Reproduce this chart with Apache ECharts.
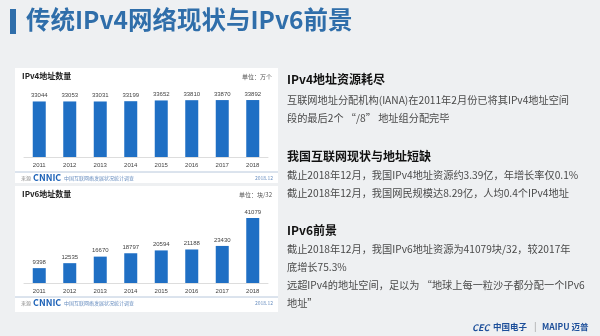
<!DOCTYPE html>
<html>
<head>
<meta charset="utf-8">
<script src="https://cdn.jsdelivr.net/npm/echarts@6/dist/echarts.min.js"></script>
<style>
  html, body { margin: 0; padding: 0; }
  #main { width: 600px; height: 336px; }
</style>
</head>
<body>
<div id="main"></div>
<script>
var years = ['2011', '2012', '2013', '2014', '2015', '2016', '2017', '2018'];
var ipv4Counts = [33044, 33053, 33031, 33199, 33652, 33810, 33870, 33892];
var ipv6Blocks = [9398, 12535, 16670, 18797, 20594, 21188, 23430, 41079];

var cjk = '"Noto Sans CJK SC", "Noto Sans", sans-serif';
var barBlue = '#1f6fc4';
var bodyColor = '#4a4a4a';

function txt(x, y, s, size, color, weight, align) {
    return {
        type: 'text', left: x, top: y,
        style: {
            text: s, fontSize: size, fill: color, fontFamily: cjk,
            fontWeight: weight || 'normal', textAlign: align || 'left'
        }
    };
}

function panel(top, h, title, unit, footY) {
    return [
        { type: 'rect', shape: { x: 15, y: top, width: 263, height: h }, style: { fill: '#fff' } },
        txt(22, top + 4, title, 8, '#222', 'bold'),
        { type: 'text', right: 328, top: top + 6, style: { text: unit, fontSize: 6, fill: '#555', fontFamily: cjk } },
        { type: 'line', shape: { x1: 15, y1: footY, x2: 278, y2: footY }, style: { stroke: '#b8c8dc', lineWidth: 1 } },
        txt(21, footY + 4, '来源', 5, '#888'),
        txt(33, footY + 1.5, 'CNNIC', 9, '#1e63b8', 'bold'),
        txt(64, footY + 4, '中国互联网络发展状况统计调查', 5, '#6a8fc0'),
        { type: 'text', right: 327, top: footY + 4, style: { text: '2018.12', fontSize: 5, fill: '#6a8fc0', fontFamily: cjk } }
    ];
}

var graphics = [
    { type: 'rect', shape: { x: 10, y: 9, width: 6, height: 25 }, style: { fill: '#2f6eaa' } },
    txt(26, 7, '传统IPv4网络现状与IPv6前景', 24.5, '#2f6eaa', 'bold'),

    txt(287, 73, 'IPv4地址资源耗尽', 12, '#111', 'bold'),
    txt(287, 95, '互联网地址分配机构(IANA)在2011年2月份已将其IPv4地址空间', 10.2, bodyColor),
    txt(287, 113, '段的最后2个 “/8” 地址组分配完毕', 10.2, bodyColor),

    txt(287, 150, '我国互联网现状与地址短缺', 12, '#111', 'bold'),
    txt(287, 170, '截止2018年12月，我国IPv4地址资源约3.39亿，年增长率仅0.1%', 10.2, bodyColor),
    txt(287, 188, '截止2018年12月，我国网民规模达8.29亿，人均0.4个IPv4地址', 10.2, bodyColor),

    txt(287, 224, 'IPv6前景', 12, '#111', 'bold'),
    txt(287, 244, '截止2018年12月，我国IPv6地址资源为41079块/32，较2017年', 10.2, bodyColor),
    txt(287, 262, '底增长75.3%', 10.2, bodyColor),
    txt(287, 280, '远超IPv4的地址空间，足以为 “地球上每一粒沙子都分配一个IPv6', 10.2, bodyColor),
    txt(287, 298, '地址”', 10.2, bodyColor),

    { type: 'text', left: 472, top: 323, style: { text: 'CEC', fontSize: 9, fill: '#1d4f9a', fontWeight: 'bold', fontStyle: 'italic', fontFamily: cjk } },
    txt(493, 323, '中国电子', 8.5, '#1d4f9a', 'bold'),
    txt(534, 322, '|', 9, '#999'),
    txt(542, 323, 'MAIPU 迈普', 8.5, '#1d4f9a', 'bold')
];
graphics = panel(68, 115, 'IPv4地址数量', '单位：万个', 172).concat(panel(186, 126, 'IPv6地址数量', '单位：块/32', 297), graphics);

var labelStyle = { show: true, position: 'top', fontSize: 6, color: '#444', distance: 3 };
var axisLabelStyle = { fontSize: 6, color: '#444', margin: 5 };

var option = {
    backgroundColor: '#eef0f2',
    animation: false,
    grid: [
        { left: 24, right: 332, top: 96.5, bottom: 179 },
        { left: 24, right: 332, top: 211.8, bottom: 53 }
    ],
    xAxis: [
        { type: 'category', gridIndex: 0, data: years, axisTick: { show: false },
          axisLine: { lineStyle: { color: '#ddd' } }, axisLabel: axisLabelStyle },
        { type: 'category', gridIndex: 1, data: years, axisTick: { show: false },
          axisLine: { lineStyle: { color: '#ddd' } }, axisLabel: axisLabelStyle }
    ],
    yAxis: [
        { type: 'value', gridIndex: 0, min: 0, max: 36000, show: false },
        { type: 'value', gridIndex: 1, min: 0, max: 45000, show: false }
    ],
    series: [
        { type: 'bar', xAxisIndex: 0, yAxisIndex: 0, data: ipv4Counts, barWidth: 13,
          itemStyle: { color: barBlue }, label: labelStyle, z: 5 },
        { type: 'bar', xAxisIndex: 1, yAxisIndex: 1, data: ipv6Blocks, barWidth: 13,
          itemStyle: { color: barBlue }, label: labelStyle, z: 5 }
    ],
    graphic: graphics
};

var chart = echarts.init(document.getElementById('main'));
chart.setOption(option);
</script>
</body>
</html>
